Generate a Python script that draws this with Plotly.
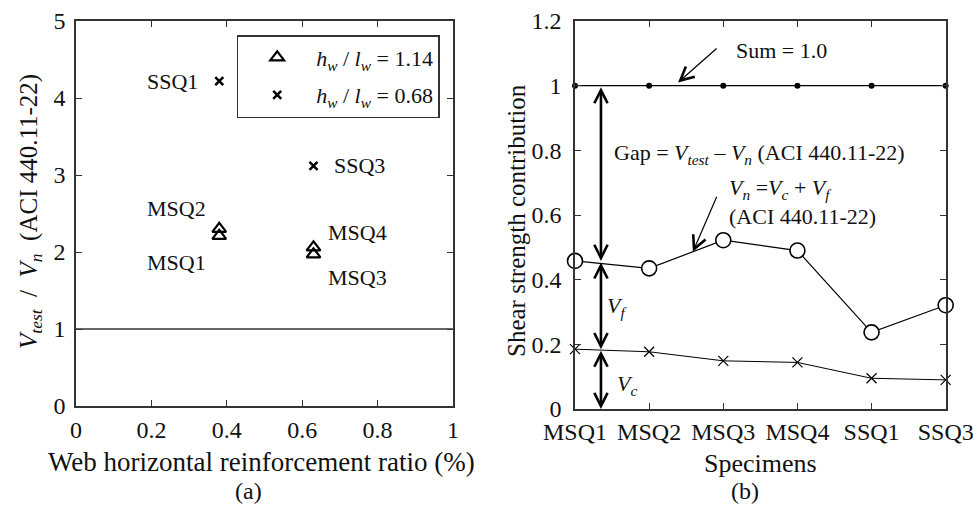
import plotly.graph_objects as go

# ---------------- data ----------------
# (a) V_test / V_n vs web horizontal reinforcement ratio
msq_names = ["MSQ1", "MSQ2", "MSQ3", "MSQ4"]
msq_ratio = [0.38, 0.38, 0.63, 0.63]
msq_vtest_vn = [2.21, 2.30, 1.97, 2.06]
ssq_names = ["SSQ1", "SSQ3"]
ssq_ratio = [0.38, 0.63]
ssq_vtest_vn = [4.22, 3.12]
ref_ratio_x = [0, 1]
ref_ratio_y = [1, 1]
a_xticks = [0, 0.2, 0.4, 0.6, 0.8, 1]
a_xticklabels = ["0", "0.2", "0.4", "0.6", "0.8", "1"]
a_yticks = [0, 1, 2, 3, 4, 5]

# (b) shear strength contributions
specimens = ["MSQ1", "MSQ2", "MSQ3", "MSQ4", "SSQ1", "SSQ3"]
sum_line = [1.0, 1.0, 1.0, 1.0, 1.0, 1.0]
vn_share = [0.458, 0.435, 0.522, 0.490, 0.237, 0.321]
vc_share = [0.185, 0.177, 0.149, 0.144, 0.095, 0.090]
b_yticks = [0, 0.2, 0.4, 0.6, 0.8, 1.0, 1.2]
b_yticklabels = ["0", "0.2", "0.4", "0.6", "0.8", "1", "1.2"]

FONT = "Liberation Serif, Times New Roman, serif"
INK = "#111111"
AX = "#333333"
W, H = 973, 506

xi = list(range(len(specimens)))

fig = go.Figure()

# ---- (a) ----
fig.add_trace(go.Scatter(x=ref_ratio_x, y=ref_ratio_y, mode="lines",
                         line=dict(color=AX, width=1.5), showlegend=False,
                         xaxis="x", yaxis="y", hoverinfo="skip"))
fig.add_trace(go.Scatter(x=msq_ratio, y=msq_vtest_vn, mode="markers",
                         marker=dict(symbol="triangle-up-open", size=12, color="black",
                                     line=dict(width=2.2, color="black")),
                         name="<i>h</i><sub><i>w</i></sub> / <i>l</i><sub><i>w</i></sub> = 1.14",
                         legendgroup="g1",
                         xaxis="x", yaxis="y", cliponaxis=False))
fig.add_trace(go.Scatter(x=ssq_ratio, y=ssq_vtest_vn, mode="markers",
                         marker=dict(symbol="x-thin-open", size=8, color="black",
                                     line=dict(width=2.5, color="black")),
                         name="<i>h</i><sub><i>w</i></sub> / <i>l</i><sub><i>w</i></sub> = 0.68",
                         legendgroup="g2",
                         xaxis="x", yaxis="y", cliponaxis=False))

# ---- (b) ----
fig.add_trace(go.Scatter(x=xi, y=sum_line, mode="lines+markers",
                         line=dict(color="black", width=1.2),
                         marker=dict(symbol="circle", size=6, color="black"),
                         showlegend=False, xaxis="x2", yaxis="y2", cliponaxis=False))
fig.add_trace(go.Scatter(x=xi, y=vc_share, mode="lines+markers",
                         line=dict(color="black", width=1),
                         marker=dict(symbol="x-thin-open", size=10, color="black",
                                     line=dict(width=1.2, color="black")),
                         showlegend=False, xaxis="x2", yaxis="y2", cliponaxis=False))
fig.add_trace(go.Scatter(x=xi, y=vn_share, mode="lines+markers",
                         line=dict(color="black", width=1.2),
                         marker=dict(symbol="circle", size=15, color="white",
                                     line=dict(width=1.6, color="black")),
                         showlegend=False, xaxis="x2", yaxis="y2", cliponaxis=False))

axis_common = dict(showline=True, linecolor=AX, linewidth=1.5, mirror="ticks",
                   ticks="inside", ticklen=6, tickwidth=1.2, tickcolor=AX,
                   showgrid=False, zeroline=False, automargin=False,
                   ticklabeloverflow="allow",
                   tickfont=dict(family=FONT, size=24, color=INK))

fig.update_layout(
    width=W, height=H, autosize=False,
    margin=dict(l=0, r=0, t=0, b=0, autoexpand=False),
    paper_bgcolor="white", plot_bgcolor="white",
    font=dict(family=FONT, color=INK, size=22),
    xaxis=dict(domain=[76 / W, 453 / W], range=[0, 1], tickvals=a_xticks,
               ticktext=a_xticklabels, anchor="y", ticklabelstandoff=1, **axis_common),
    yaxis=dict(domain=[1 - 406 / H, 1 - 21 / H], range=[0, 5], tickvals=a_yticks,
               anchor="x", ticklabelstandoff=4, **axis_common),
    xaxis2=dict(domain=[575 / W, 945.7 / W], range=[0, 5], tickvals=xi,
                ticktext=specimens, anchor="y2", ticklabelstandoff=0, **axis_common),
    yaxis2=dict(domain=[1 - 409 / H, 1 - 21 / H], range=[0, 1.2], tickvals=b_yticks,
                ticktext=b_yticklabels, anchor="x2", ticklabelstandoff=7, **axis_common),
    legend=dict(x=236.7 / W, y=1 - 35 / H, xanchor="left", yanchor="top",
                bordercolor=AX, borderwidth=1.5, bgcolor="white",
                font=dict(family=FONT, size=22, color=INK), itemwidth=68,
                tracegroupgap=6),
)

ann = []
# point labels in (a)
for name, xv, yv, xa in [
    ("SSQ1", 0.329, 4.22, "right"), ("SSQ3", 0.678, 3.12, "left"),
    ("MSQ2", 0.35, 2.56, "right"), ("MSQ1", 0.35, 1.87, "right"),
    ("MSQ4", 0.663, 2.25, "left"), ("MSQ3", 0.663, 1.675, "left")]:
    ann.append(dict(x=xv, y=yv, xref="x", yref="y", text=name, showarrow=False,
                    xanchor=xa, yanchor="middle", font=dict(size=22)))

SUB = "<sub><i>{}</i></sub>"
# titles
titles = [
    dict(x=261 / W, y=1 - 462 / H, text="Web horizontal reinforcement ratio (%)",
         font=dict(size=27)),
    dict(x=248 / W, y=1 - 491 / H, text="(a)", font=dict(size=24)),
    dict(x=30 / W, y=1 - 212 / H, textangle=-90, font=dict(size=25),
         text="<i>V</i>" + SUB.format("test") + "  /  <i>V</i>" + SUB.format("n")
              + "  (ACI 440.11-22)"),
    dict(x=760 / W, y=1 - 463 / H, text="Specimens", font=dict(size=26)),
    dict(x=745 / W, y=1 - 491 / H, text="(b)", font=dict(size=24)),
    dict(x=517 / W, y=1 - 221 / H, textangle=-90, text="Shear strength contribution",
         font=dict(size=25)),
]
for a in titles:
    a.update(xref="paper", yref="paper", showarrow=False, xanchor="center",
             yanchor="middle")
ann += titles

# annotations in (b)
ann += [
    dict(x=2.146, y=1.11, xref="x2", yref="y2", xanchor="left", yanchor="middle",
         showarrow=False, text="Sum = 1.0", font=dict(size=22)),
    dict(x=1.39, y=1.01, ax=1.93, ay=1.119, xref="x2", yref="y2", axref="x2", ayref="y2",
         text="", showarrow=True, arrowhead=5, arrowsize=2.2, arrowwidth=1.2,
         arrowcolor="black", standoff=0),
    dict(x=0.495, y=0.788, xref="x2", yref="y2", xanchor="left", yanchor="middle",
         showarrow=False, font=dict(size=22),
         text="Gap = <i>V</i><sub><i>test</i></sub> – <i>V</i><sub><i>n</i></sub> (ACI 440.11-22)"),
    dict(x=2.05, y=0.64, xref="x2", yref="y2", xanchor="left", yanchor="middle",
         showarrow=False, align="left", font=dict(size=22),
         text="<i>V</i><sub><i>n</i></sub> =<i>V</i><sub><i>c</i></sub> + <i>V</i><sub><i>f</i></sub><br>(ACI 440.11-22)"),
    dict(x=1.59, y=0.486, ax=1.92, ay=0.661, xref="x2", yref="y2", axref="x2", ayref="y2",
         text="", showarrow=True, arrowhead=5, arrowsize=2.2, arrowwidth=1.2,
         arrowcolor="black", standoff=0),
    dict(x=0.56, y=0.316, xref="x2", yref="y2", xanchor="center", yanchor="middle",
         showarrow=False, font=dict(size=22), text="<i>V</i><sub><i>f</i></sub>"),
    dict(x=0.70, y=0.074, xref="x2", yref="y2", xanchor="center", yanchor="middle",
         showarrow=False, font=dict(size=22), text="<i>V</i><sub><i>c</i></sub>"),
]
# double arrows
arrow_x = 0.35
for top, bot in [(1.0, vn_share[0]), (vn_share[0], vc_share[0]), (vc_share[0], 0.0)]:
    ann.append(dict(x=arrow_x, y=bot, ax=arrow_x, ay=top, xref="x2", yref="y2",
                    axref="x2", ayref="y2", text="", showarrow=True,
                    arrowhead=5, startarrowhead=5, arrowside="end+start",
                    arrowsize=1, startarrowsize=1, arrowwidth=2.6,
                    arrowcolor="black", standoff=0, startstandoff=0))

fig.update_layout(annotations=ann)
fig.write_html("out.html", config={"displayModeBar": False},
               post_script="document.body.style.margin='0';document.body.style.overflow='hidden';")
